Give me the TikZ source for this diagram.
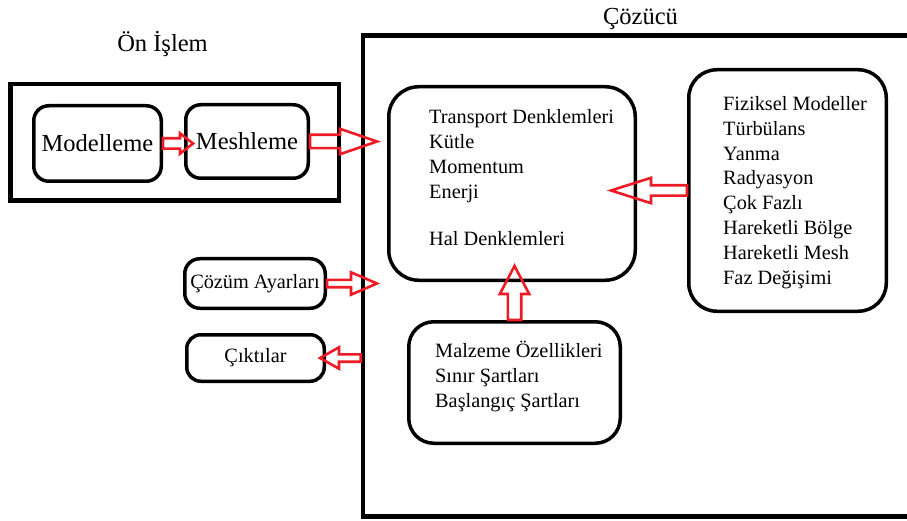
\documentclass[tikz,border=0pt]{standalone}
\usepackage{fontspec}
\setmainfont{Liberation Serif}
\usetikzlibrary{calc}
\definecolor{rouge}{RGB}{237,28,36}

\begin{document}
\begin{tikzpicture}[x=1pt, y=-1pt,
  cadre/.style={draw, line width=4.5pt},
  boite/.style={draw, line width=3.5pt, rounded corners=#1, font=\fontsize{20.3}{25}\selectfont},
  texte/.style={font=\fontsize{20.3}{#1}\selectfont, align=left, anchor=north west, inner sep=0pt},
  titre/.style={font=\fontsize{24.5}{29}\selectfont, anchor=base, inner sep=0pt},
  creuse/.style n args={3}{draw=rouge, line width=2.6pt, line join=miter,
    to path={let \p1=(\tikztostart), \p2=(\tikztotarget),
      \n1={atan2(\y2-\y1,\x2-\x1)}, \n2={veclen(\x2-\x1,\y2-\y1)-#3} in
      ($(\p1)+({\n1+90}:#1pt)$) -- ($(\p1)+(\n1:\n2)+({\n1+90}:#1pt)$)
      -- ($(\p1)+(\n1:\n2)+({\n1+90}:#2pt)$) -- (\p2)
      -- ($(\p1)+(\n1:\n2)+({\n1-90}:#2pt)$) -- ($(\p1)+(\n1:\n2)+({\n1-90}:#1pt)$)
      -- ($(\p1)+({\n1-90}:#1pt)$) -- cycle}}]

  \useasboundingbox (0,0) rectangle (907,521);
  \clip (0,0) rectangle (907,521);

  % Ön İşlem
  \node[cadre, minimum width=328.5pt, minimum height=116.5pt] (onis) at (174.5,142.5) {};
  \node[titre] (onisT) at (162.5,52) {Ön İşlem};
  \node[boite=15pt, minimum width=127.5pt, minimum height=75.5pt, font=\fontsize{24.5}{29}\selectfont] (mod) at (97.5,143.5) {Modelleme};
  \node[boite=15pt, minimum width=122.5pt, minimum height=73.5pt, font=\fontsize{24.5}{29}\selectfont] (mesh) at (247,141.5) {Meshleme};

  % Çözücü
  \node[cadre, minimum width=549pt, minimum height=481pt] (coz) at (637.5,276) {};
  \node[titre] (cozT) at (640.5,25) {Çözücü};
  \node[boite=30pt, minimum width=246.5pt, minimum height=193.5pt] (tr) at (512,183.5) {};
  \node[texte=25] (trT) at (429,109) {Transport Denklemleri\\Kütle\\Momentum\\Enerji\\[22pt]Hal Denklemleri};
  \node[boite=28pt, minimum width=197.5pt, minimum height=241.5pt] (fz) at (787.5,190.5) {};
  \node[texte=24.9] (fzT) at (723,96) {Fiziksel Modeller\\Türbülans\\Yanma\\Radyasyon\\Çok Fazlı\\Hareketli Bölge\\Hareketli Mesh\\Faz Değişimi};
  \node[boite=25pt, minimum width=211.5pt, minimum height=121.5pt] (mal) at (514.5,382.5) {};
  \node[texte=25] (malT) at (435,341) {Malzeme Özellikleri\\Sınır Şartları\\Başlangıç Şartları};

  % ayarlar / çıktılar
  \node[boite=15pt, minimum width=140.5pt, minimum height=49.5pt] (cz) at (255,283.5) {Çözüm Ayarları};
  \node[boite=14pt, minimum width=137.5pt, minimum height=46.5pt] (cik) at (255.5,358) {Çıktılar};

  % flèches
  \coordinate (p1) at (193,143.5);
  \coordinate (p2) at (377,141.5);
  \coordinate (p3) at (377,283.5);
  \coordinate (p4) at (320,358);
  \coordinate (p5) at (611,190.5);
  \coordinate (p6) at (514.5,266);
  \draw[creuse={5.2}{10.2}{13}] (mod.east) to (p1);
  \draw[creuse={6.7}{12.7}{37}] (mesh.east) to (p2);
  \draw[creuse={3.7}{11.2}{26}] (cz.east) to (p3);
  \draw[creuse={3.7}{10.7}{19}] (coz.west |- cik.east) to (p4);
  \draw[creuse={5.2}{12.7}{40}] (fz.west) to (p5);
  \draw[creuse={6.7}{14.7}{28}] (mal.north) to (p6);
\end{tikzpicture}
\end{document}
